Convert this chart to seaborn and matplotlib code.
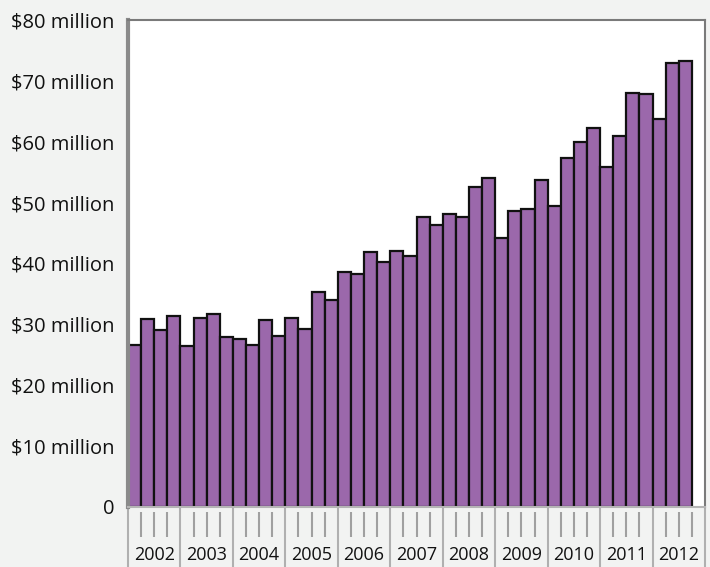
import matplotlib
matplotlib.use("Agg")
import matplotlib.pyplot as plt
import seaborn as sns
import pandas as pd
from matplotlib.ticker import FuncFormatter

years = ["2002", "2003", "2004", "2005", "2006", "2007", "2008", "2009", "2010", "2011", "2012"]
quarters = [f"{y} Q{q}" for y in years for q in range(1, 5)][:43]
values = [26.6, 30.9, 29.0, 31.3,
          26.4, 31.1, 31.7, 28.0,
          27.6, 26.6, 30.8, 28.1,
          31.1, 29.2, 35.3, 34.0,
          38.6, 38.3, 41.9, 40.2,
          42.0, 41.3, 47.7, 46.3,
          48.1, 47.7, 52.6, 54.0,
          44.2, 48.6, 49.0, 53.7,
          49.5, 57.3, 60.0, 62.3,
          55.8, 61.0, 68.0, 67.8,
          63.8, 73.0, 73.2]
y_ticks = [0, 10, 20, 30, 40, 50, 60, 70, 80]

df = pd.DataFrame({"quarter": quarters, "value": values})

sns.set_style("white")
plt.rcParams["font.family"] = ["Open Sans", "DejaVu Sans"]

BG = "#f2f3f2"
fig = plt.figure(figsize=(7.10, 5.67), dpi=100, facecolor=BG)
W, H = 710, 567
x0, x1, y0, y1 = 128, 705, 20, 507
ax = fig.add_axes([x0 / W, (H - y1) / H, (x1 - x0) / W, (y1 - y0) / H])
ax.set_facecolor("white")

sns.barplot(data=df, x="quarter", y="value", order=quarters, color="#9b68ab",
            saturation=1, edgecolor="#111111", linewidth=1.6, width=1.0, ax=ax)

n_slots = len(years) * 4
ax.set_xlim(-0.5, n_slots - 0.5)
ax.set_ylim(0, 80)
ax.set_yticks(y_ticks)
ax.yaxis.set_major_formatter(FuncFormatter(lambda v, p: "0" if v == 0 else f"${int(v)} million"))
ax.tick_params(axis="y", length=0, pad=10, labelsize=14.5, labelcolor="#111111")
ax.set_xticks([])
ax.set_xlabel("")
ax.set_ylabel("")

for side in ["top", "right"]:
    ax.spines[side].set_color("#7a7a7a")
    ax.spines[side].set_linewidth(1.5)
ax.spines["left"].set_color("#8a8a8a")
ax.spines["left"].set_linewidth(3)
ax.spines["bottom"].set_color("#b5b5b5")
ax.spines["bottom"].set_linewidth(1.5)

trans = ax.get_xaxis_transform()
ph = y1 - y0
for i in range(n_slots + 1):
    xb = i - 0.5
    if i % 4 == 0:
        ax.plot([xb, xb], [0, -(H - y1) / ph], transform=trans, color="#b0b0b0",
                lw=1.5, clip_on=False, solid_capstyle="butt")
    else:
        ax.plot([xb, xb], [-5 / ph, -30 / ph], transform=trans, color="#a0a0a0",
                lw=1.5, clip_on=False, solid_capstyle="butt")

for k, yr in enumerate(years):
    ax.text(k * 4 + 1.5, -48 / ph, yr, transform=trans, ha="center", va="center",
            fontsize=13, color="#111111")

fig.savefig("out.png", dpi=100, facecolor=BG)
